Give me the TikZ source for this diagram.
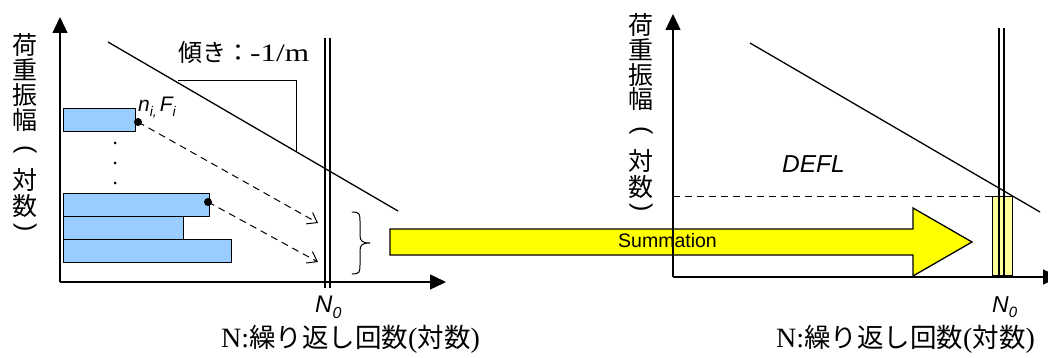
\documentclass[tikz,border=0pt]{standalone}
\usepackage{fontspec}
\setmainfont{Liberation Serif}
\setsansfont{Liberation Sans}
\newfontfamily\jp{Noto Sans CJK JP}
\usetikzlibrary{arrows.meta}
\definecolor{barblue}{HTML}{99CCFF}
\definecolor{sumyellow}{HTML}{FFFF00}
\definecolor{paleyellow}{HTML}{FFFF99}
\begin{document}
\begin{tikzpicture}[x=1pt,y=-1pt,
  axis/.style={line width=1.3pt,-{Triangle[length=16pt,width=15pt]}},
  curve/.style={line width=1.3pt},
  thinline/.style={line width=1pt},
  nline/.style={line width=1.2pt},
  bar/.style={draw=black,line width=1.3pt,fill=barblue,inner sep=0,anchor=north west},
  bigdot/.style={circle,fill=black,inner sep=0,minimum size=8pt},
  smalldot/.style={circle,fill=black,inner sep=0,minimum size=3pt},
  flow/.style={line width=1pt,dash pattern=on 7pt off 5pt,-{Straight Barb[length=9pt,width=13pt]}},
  vch/.style={font=\jp\fontsize{25}{25}\selectfont,inner sep=0},
  vpar/.style={font=\sffamily\fontsize{25}{25}\selectfont,inner sep=0,rotate=-90},
  xlabel/.style={font=\fontsize{28}{28}\selectfont,inner sep=0,anchor=base west},
  itlabel/.style={font=\sffamily\itshape\fontsize{24}{24}\selectfont,inner sep=0,anchor=base west}
]
\useasboundingbox (0,0) rectangle (1048,358);
\newcommand\jpx[1]{{\jp\fontsize{26.5}{26.5}\selectfont #1}}

% ---------------- left panel ----------------
\coordinate (o1) at (60,282);
\coordinate (y1) at (60,17);
\coordinate (x1) at (446,282);
\draw[axis] (o1) -- (y1);
\draw[axis] (o1) -- (x1);

% vertical y label
\foreach \c/\yy [count=\i] in {荷/45,重/70,振/95,幅/120,対/180,数/206}
  \node[vch] (la\i) at (25,\yy) {\c};
\node[vpar] (lpo) at (25,150) {(};
\node[vpar] (lpc) at (25,228) {)};

% bars
\node[bar,minimum width=168pt,minimum height=23pt] (b4) at (63,239) {};
\node[bar,minimum width=120pt,minimum height=23pt] (b3) at (63,216) {};
\node[bar,minimum width=146pt,minimum height=23pt] (b2) at (63,193) {};
\node[bar,minimum width=72pt,minimum height=23pt] (b1) at (63,108) {};

% ellipsis
\node[smalldot] (e1) at (115,143) {};
\node[smalldot] (e2) at (115,163) {};
\node[smalldot] (e3) at (115,183) {};

% S-N line
\coordinate (s1) at (108,42);
\coordinate (s2) at (398,211);
\draw[curve] (s1) -- (s2);

% slope triangle
\coordinate (k1) at (178,81);
\coordinate (k2) at (296,81);
\coordinate (k3) at (296,152);
\draw[thinline] (k1) -- (k2) -- (k3);
\node[inner sep=0,anchor=base west,font=\fontsize{24}{24}\selectfont] (slope) at (178,62)
  {{\jp 傾き：}\scalebox{1.25}[1]{\fontsize{25}{25}\selectfont -1/m}};

% N0 double line
\coordinate (na1) at (325,38);
\coordinate (nb1) at (325,288);
\coordinate (na2) at (330,38);
\coordinate (nb2) at (330,288);
\draw[nline] (na1) -- (nb1);
\draw[nline] (na2) -- (nb2);

% points and dashed arrows
\node[bigdot] (d1) at (138,122) {};
\node[bigdot] (d2) at (208,202) {};
\coordinate (t1) at (318,223);
\coordinate (t2) at (318,262);
\draw[flow] (d1.center) -- (t1);
\draw[flow] (d2.center) -- (t2);

\node[inner sep=0,anchor=base west,font=\sffamily\itshape\fontsize{21}{21}\selectfont] (nf) at (138,112)
  {n\raisebox{-5pt}{\fontsize{14}{14}\selectfont i,}\hspace{3pt}F\raisebox{-5pt}{\fontsize{14}{14}\selectfont i}};

% brace
\coordinate (br1) at (352,212);
\coordinate (br2) at (352,274);
\coordinate (brt) at (370,243);
\draw[thinline,line cap=round] (br1) .. controls (360,212) and (360,214) .. (360,222) -- (360,235)
  .. controls (360,241) and (362,243) .. (brt)
  .. controls (362,243) and (360,245) .. (360,251) -- (360,264)
  .. controls (360,272) and (360,274) .. (br2);

% N0 label and x label
\node[itlabel] (n0l) at (315,312) {N\raisebox{-6pt}{\fontsize{16}{16}\selectfont 0}};
\node[xlabel] (xl1) at (221,347) {N:\jpx{繰り返し回数}(\jpx{対数})};

% ---------------- summation arrow ----------------
\coordinate (a1) at (390,229);
\coordinate (a2) at (913,229);
\coordinate (a3) at (913,208);
\coordinate (a4) at (972,242);
\coordinate (a5) at (913,276);
\coordinate (a6) at (913,255);
\coordinate (a7) at (390,255);
\draw[line width=1.3pt,fill=sumyellow,line join=miter] (a1) -- (a2) -- (a3) -- (a4) -- (a5) -- (a6) -- (a7) -- cycle;
\node[inner sep=0,anchor=base west,font=\sffamily\fontsize{19.5}{19.5}\selectfont] (sum) at (618,247) {Summation};

% ---------------- right panel ----------------
\coordinate (o2) at (673,277);
\coordinate (y2) at (673,14);
\coordinate (x2) at (1059,277);
\draw[axis] (o2) -- (y2);
\draw[axis] (o2) -- (x2);

\foreach \c/\yy [count=\i] in {荷/25,重/50,振/75,幅/99,対/161,数/187}
  \node[vch] (ra\i) at (641,\yy) {\c};
\node[vpar] (rpo) at (641,131) {(};
\node[vpar] (rpc) at (641,208) {)};

\node[draw=black,line width=1.3pt,fill=paleyellow,inner sep=0,anchor=north west,
  minimum width=20pt,minimum height=79pt] (cell) at (992,196) {};
\coordinate (dh) at (673,196);
\draw[thinline,dash pattern=on 7pt off 5pt] (dh) -- (cell.north west);

\coordinate (ma1) at (999,28);
\coordinate (mb1) at (999,277);
\coordinate (ma2) at (1004,28);
\coordinate (mb2) at (1004,277);
\draw[nline] (ma1) -- (mb1);
\draw[nline] (ma2) -- (mb2);

\coordinate (r1) at (750,43);
\coordinate (r2) at (1040,212);
\draw[curve] (r1) -- (r2);

\node[itlabel,font=\sffamily\itshape\fontsize{24.5}{24.5}\selectfont] (defl) at (782,172) {DEFL};
\node[itlabel,font=\sffamily\itshape\fontsize{23}{23}\selectfont] (n0r) at (992,312) {N\raisebox{-5pt}{\fontsize{15}{15}\selectfont 0}};
\node[xlabel] (xl2) at (776,347) {N:\jpx{繰り返し回数}(\jpx{対数})};
\end{tikzpicture}
\end{document}
